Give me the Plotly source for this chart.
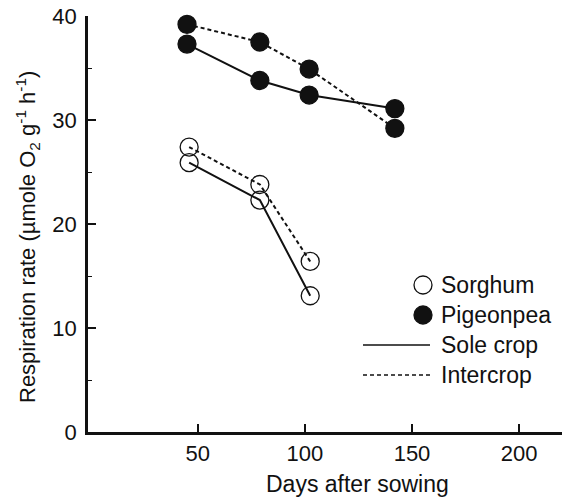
import plotly.graph_objects as go

# ---- data ----
pigeonpea_days = [45, 79, 102, 142]
pigeonpea_sole = [37.3, 33.8, 32.4, 31.1]
pigeonpea_inter = [39.2, 37.5, 34.9, 29.2]

sorghum_days = [46, 79, 102.5]
sorghum_sole = [25.9, 22.3, 13.1]
sorghum_inter = [27.4, 23.8, 16.4]

x_ticks = [50, 100, 150, 200]
y_ticks = [0, 10, 20, 30, 40]

legend_labels = ["Sorghum", "Pigeonpea", "Sole crop", "Intercrop"]

FONT = "Liberation Sans, Arial, Helvetica, sans-serif"
BLACK = "#111111"

fig = go.Figure()

def add(x, y, dash, filled):
    fig.add_trace(go.Scatter(
        x=x, y=y, mode="lines+markers",
        line=dict(color=BLACK, width=2, dash=dash),
        marker=dict(
            symbol="circle" if filled else "circle-open",
            size=18, color=BLACK,
            line=dict(color=BLACK, width=1.3),
        ),
        showlegend=False, cliponaxis=False,
    ))

add(pigeonpea_days, pigeonpea_inter, "4px,3px", True)
add(pigeonpea_days, pigeonpea_sole, "solid", True)
add(sorghum_days, sorghum_inter, "4px,3px", False)
add(sorghum_days, sorghum_sole, "solid", False)

L, R, T, B = 88, 0, 16, 65
W, H = 562, 497
pw, ph = W - L - R, H - T - B

def px(xp):
    return (xp - L) / pw

def py(yp):
    return (H - B - yp) / ph

shapes = []
annotations = []

# legend symbols (layout, not data)
mx = px(423)
for yy, filled in [(285, False), (315, True)]:
    shapes.append(dict(
        type="circle", xref="paper", yref="paper",
        xsizemode="pixel", ysizemode="pixel",
        xanchor=mx, yanchor=py(yy), x0=-9, x1=9, y0=-9, y1=9,
        line=dict(color=BLACK, width=1.3),
        fillcolor=BLACK if filled else "rgba(0,0,0,0)",
    ))
for yy, dash in [(345, "solid"), (375, "4px,3px")]:
    shapes.append(dict(
        type="line", xref="paper", yref="paper",
        x0=px(363), x1=px(430), y0=py(yy), y1=py(yy),
        line=dict(color=BLACK, width=1.6, dash=dash),
    ))
for lab, yy in zip(legend_labels, [285, 315, 345, 375]):
    annotations.append(dict(
        text=lab, xref="paper", yref="paper", x=px(439), y=py(yy),
        xanchor="left", yanchor="middle", showarrow=False,
        font=dict(family=FONT, size=23, color=BLACK),
    ))

# axis titles
annotations.append(dict(
    text="Days after sowing", xref="paper", yref="paper",
    x=px(357), y=py(499), xanchor="center", yanchor="bottom",
    showarrow=False, font=dict(family=FONT, size=23, color=BLACK),
))
annotations.append(dict(
    text="Respiration rate (µmole O<sub>2</sub> g<sup>-1</sup> h<sup>-1</sup>)",
    xref="paper", yref="paper", x=px(27), y=py(237), textangle=-90,
    xanchor="center", yanchor="middle", showarrow=False,
    font=dict(family=FONT, size=22, color=BLACK),
))

fig.update_layout(
    width=W, height=H,
    margin=dict(l=L, r=R, t=T, b=B),
    paper_bgcolor="white", plot_bgcolor="white",
    font=dict(family=FONT, size=22, color=BLACK),
    shapes=shapes, annotations=annotations,
    showlegend=False,
)
fig.update_xaxes(
    range=[-1.2, 220], tickvals=x_ticks, ticktext=[str(v) for v in x_ticks],
    ticks="inside", ticklen=8, tickwidth=1.5, tickcolor=BLACK,
    showline=True, linewidth=2.5, linecolor=BLACK,
    showgrid=False, zeroline=False, ticklabelstandoff=0,
)
fig.update_yaxes(
    range=[0, 40], tickvals=y_ticks, ticktext=[str(v) for v in y_ticks],
    ticks="inside", ticklen=8, tickwidth=1.5, tickcolor=BLACK,
    minor=dict(ticks="inside", ticklen=4, tickwidth=1.2, tickcolor=BLACK, dtick=5, tick0=0, showgrid=False),
    showline=True, linewidth=2.5, linecolor=BLACK,
    showgrid=False, zeroline=False, ticklabelstandoff=4,
)

fig.write_html("out.html")
